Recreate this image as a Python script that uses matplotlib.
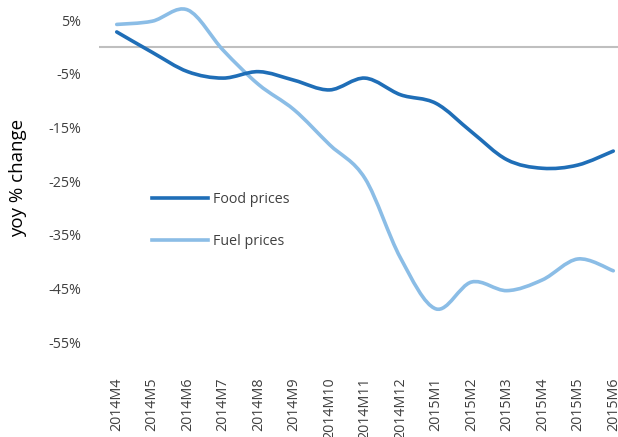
import matplotlib
matplotlib.use("Agg")
import matplotlib.pyplot as plt
from matplotlib.path import Path
from matplotlib.patches import PathPatch
from matplotlib.lines import Line2D
import numpy as np

categories = ["2014M4", "2014M5", "2014M6", "2014M7", "2014M8", "2014M9", "2014M10",
              "2014M11", "2014M12", "2015M1", "2015M2", "2015M3", "2015M4", "2015M5", "2015M6"]
food_prices = [2.8, -1.0, -4.6, -5.8, -4.6, -6.2, -8.0, -5.8, -8.9, -10.5, -15.8, -21.0, -22.6, -22.0, -19.4]
fuel_prices = [4.2, 4.8, 6.9, -0.6, -7.0, -11.7, -18.2, -24.5, -39.3, -48.8, -43.8, -45.4, -43.4, -39.5, -41.7]
y_ticks = [5, -5, -15, -25, -35, -45, -55]
y_tick_labels = ["5%", "-5%", "-15%", "-25%", "-35%", "-45%", "-55%"]

FONT = ["Open Sans", "DejaVu Sans"]
plt.rcParams["font.family"] = FONT
TXT = "#404040"

W, H = 618, 437
fig = plt.figure(figsize=(W / 100, H / 100), dpi=100)
left, right = 99 / W, 631 / W
bottom, top = 1 - 369 / H, 1 + 6.7 / H
ax = fig.add_axes([left, bottom, right - left, top - bottom])
ax.set_xlim(-0.5, len(categories) - 0.5)
ax.set_ylim(-60, 10)


def smooth_path(xs, ys):
    pts = np.column_stack([xs, ys]).astype(float)
    n = len(pts)
    verts = [pts[0]]
    codes = [Path.MOVETO]
    for i in range(n - 1):
        p0 = pts[i - 1] if i > 0 else pts[i]
        p1 = pts[i]
        p2 = pts[i + 1]
        p3 = pts[i + 2] if i + 2 < n else pts[i + 1]
        c1 = p1 + (p2 - p0) / 6.0
        c2 = p2 - (p3 - p1) / 6.0
        verts += [c1, c2, p2]
        codes += [Path.CURVE4] * 3
    return Path(verts, codes)


x = np.arange(len(categories))
food_color = "#1F6EB7"
fuel_color = "#8BBDE6"
ax.axhline(0, color="#BFBFBF", lw=1.5, zorder=1)
ax.add_patch(PathPatch(smooth_path(x, fuel_prices), fill=False, ec=fuel_color, lw=2.6,
                       capstyle="round", joinstyle="round", zorder=3))
ax.add_patch(PathPatch(smooth_path(x, food_prices), fill=False, ec=food_color, lw=2.6,
                       capstyle="round", joinstyle="round", zorder=4))

for s in ax.spines.values():
    s.set_visible(False)
ax.set_yticks(y_ticks)
ax.set_yticklabels(y_tick_labels)
ax.set_xticks(x)
ax.set_xticklabels(categories, rotation=90, va="top", ha="center")
ax.tick_params(axis="y", length=0, pad=13, labelsize=10.3, labelcolor=TXT)
ax.tick_params(axis="x", length=0, pad=6, labelsize=10.3, labelcolor=TXT)

fig.text(18 / W, 1 - 178 / H, "yoy % change", rotation=90, ha="center", va="center",
         fontsize=13.5, color="#000000")

handles = [Line2D([], [], color=food_color, lw=2.6), Line2D([], [], color=fuel_color, lw=2.6)]
fig.legend(handles, ["Food prices", "Fuel prices"], loc="center left",
           bbox_to_anchor=(152 / W, 1 - 220.5 / H), frameon=False, fontsize=10.3,
           handlelength=3.9, handletextpad=0.35, labelspacing=1.95, borderpad=0,
           borderaxespad=0, labelcolor=TXT)

fig.savefig("out.png", dpi=100)
